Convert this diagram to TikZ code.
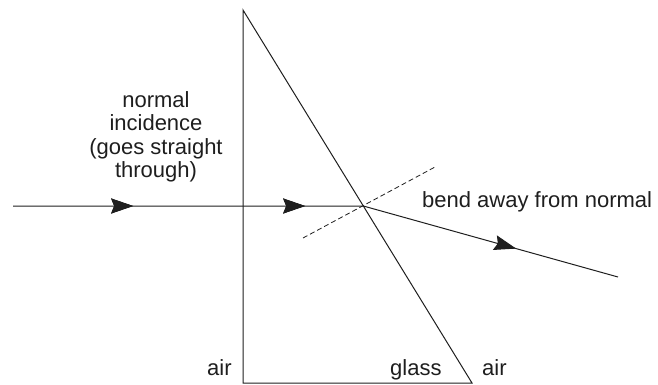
\documentclass[tikz,border=0pt]{standalone}
\usepackage{fontspec}
\setmainfont{Liberation Sans}
\usepackage{xcolor}
\definecolor{ink}{RGB}{30,30,30}
\usepackage{tikz}
\usetikzlibrary{arrows.meta,positioning,calc,decorations.markings}
\tikzset{
  %% glass block outline
  prism/.style={draw=ink, line width=1pt, line join=miter},
  %% light rays with arrow heads part way along
  ray/.style={draw=ink, line width=1pt},
  midarrow/.style={postaction={decorate},
    decoration={markings,
      mark=at position #1 with {\arrow{Stealth[length=22pt,width=15pt,inset=3pt]}}}},
  normalline/.style={draw=ink, line width=0.8pt, dash pattern=on 5pt off 3pt},
  lbl/.style={inner sep=0pt, text=ink, font=\fontsize{22}{23.5}\selectfont},
}

\begin{document}
\begin{tikzpicture}[x=1pt, y=-1pt]
\useasboundingbox (0,0) rectangle (658,385);

% prism corners
\coordinate (top) at (243,10);
\coordinate (bl)  at (243,383);
\coordinate (br)  at (472,383);
% ray points
\coordinate (src) at (13,206);
\coordinate (hit) at ($(top)!0.5255!(br)$);
\coordinate (out) at (618,277);
% normal at exit face
\coordinate (nlo) at (303,238);
\coordinate (nhi) at (435,167);

\draw[prism] (top) -- (bl) -- (br) -- cycle;

\draw[ray, midarrow=0.343, midarrow=0.834] (src) -- (hit);
\draw[ray, midarrow=0.60] (hit) -- (out);
\draw[normalline] (nlo) -- (nhi);

% labels
\node[lbl, align=center, anchor=north] (incid) at (156,91)
  {normal\\incidence\\(goes straight\\through)};
\node[lbl, anchor=base west] (bend) at (422,207) {bend away from normal};
\node[lbl, anchor=base west] (airL) at (207,375) {air};
\node[lbl, anchor=base west] (glass) at (390,375) {glass};
\node[lbl, anchor=base west] (airR) at (482,375) {air};
\end{tikzpicture}
\end{document}
